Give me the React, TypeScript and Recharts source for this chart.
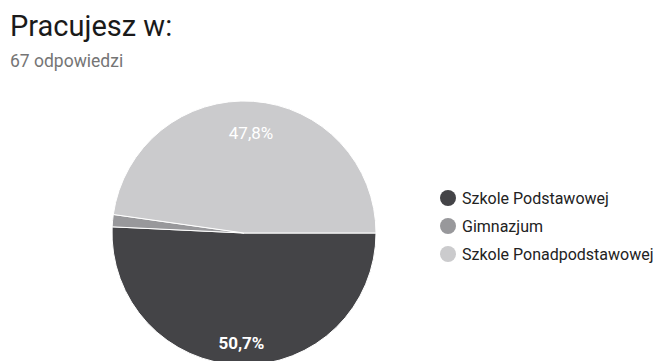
import { PieChart, Pie, Cell, Legend } from "recharts";

const categories = ["Szkole Podstawowej", "Gimnazjum", "Szkole Ponadpodstawowej"];
const counts = [34, 1, 32];
const percentLabels = ["50,7%", "", "47,8%"];

const COLORS = ["#444447", "#98989b", "#cbcbcd"];

const data = categories.map((name, i) => ({
  name,
  value: counts[i],
  label: percentLabels[i],
}));

const RADIAN = Math.PI / 180;
const FONT = "Roboto, 'Noto Sans', sans-serif";

const renderLabel = (props: any) => {
  const { cx, cy, midAngle, outerRadius, index } = props;
  const text = percentLabels[index];
  if (!text) return null;
  // google-style: bigger dark slice label sits a bit lower
  const r = outerRadius * (index === 0 ? 0.83 : 0.76);
  const x = cx + r * Math.cos(-midAngle * RADIAN);
  const y = cy + r * Math.sin(-midAngle * RADIAN);
  return (
    <text
      x={x}
      y={y}
      fill="#ffffff"
      textAnchor="middle"
      dominantBaseline="central"
      fontFamily={FONT}
      fontSize={17}
      fontWeight={index === 0 ? 700 : 400}
    >
      {text}
    </text>
  );
};

// keep the original category order (recharts sorts legend items otherwise)
const renderLegend = () => (
  <div style={{ fontFamily: FONT }}>
    {categories.map((name, i) => (
      <div
        key={`legend-${i}`}
        style={{ display: "flex", alignItems: "center", height: 28 }}
      >
        <svg width={16} height={16} style={{ marginRight: 6 }}>
          <circle cx={8} cy={8} r={8} fill={COLORS[i]} />
        </svg>
        <span style={{ fontSize: 16, color: "#222222" }}>{name}</span>
      </div>
    ))}
  </div>
);

export default function App() {
  return (
    <div
      style={{
        position: "absolute",
        left: 0,
        top: 0,
        width: 658,
        height: 361,
        background: "#ffffff",
        overflow: "hidden",
      }}
    >
      <svg
        width={658}
        height={80}
        style={{ position: "absolute", left: 0, top: 0 }}
      >
        <text x={10} y={36} fontFamily={FONT} fontSize={29} fill="#1a1a1a">
          Pracujesz w:
        </text>
        <text x={10} y={67} fontFamily={FONT} fontSize={17.5} fill="#757575">
          67 odpowiedzi
        </text>
      </svg>
      <PieChart
        width={658}
        height={361}
        margin={{ top: 0, right: 0, bottom: 0, left: 0 }}
        style={{ position: "absolute", left: 0, top: 0 }}
      >
        <Pie
          data={data}
          dataKey="value"
          nameKey="name"
          cx={244}
          cy={233}
          outerRadius={132}
          startAngle={0}
          endAngle={-360}
          stroke="#ffffff"
          strokeWidth={1}
          labelLine={false}
          label={renderLabel}
          isAnimationActive={false}
        >
          {data.map((entry, index) => (
            <Cell key={`cell-${index}`} fill={COLORS[index]} />
          ))}
        </Pie>
        <Legend
          layout="vertical"
          content={renderLegend}
          wrapperStyle={{ left: 440, top: 184, width: 218 }}
        />
      </PieChart>
    </div>
  );
}
